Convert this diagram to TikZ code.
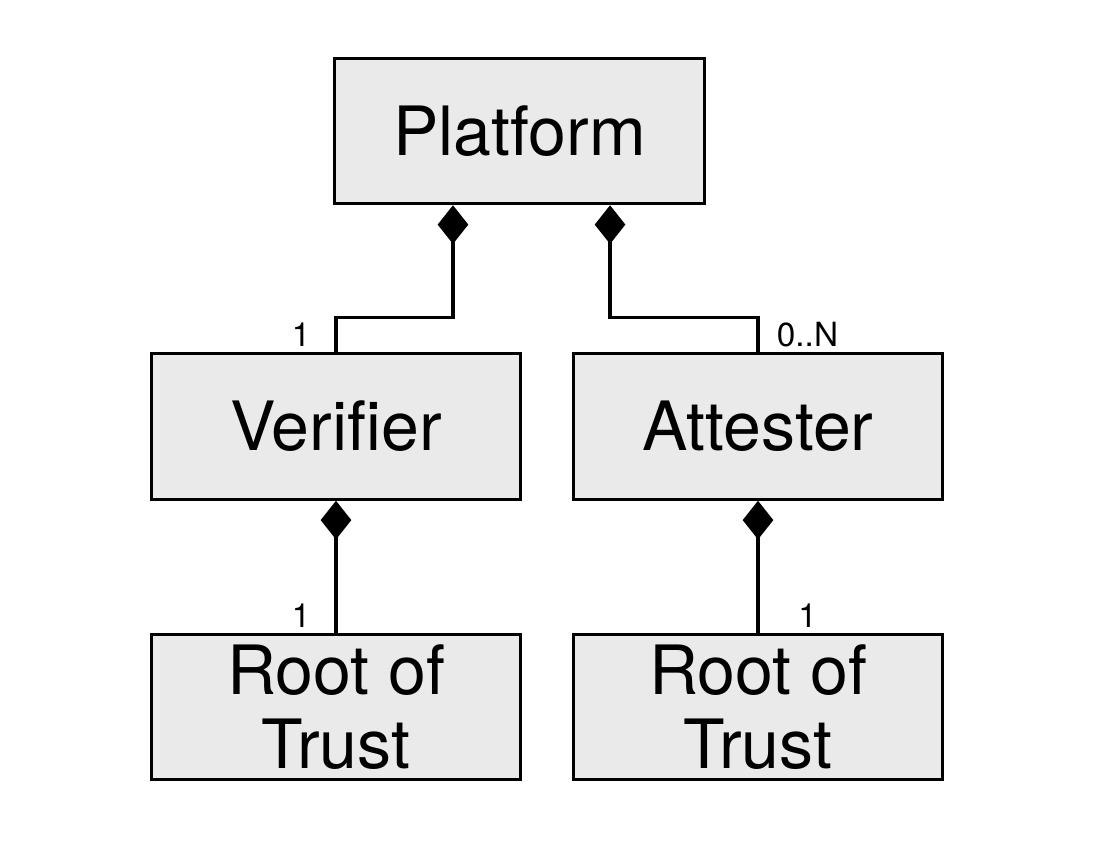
\documentclass[tikz,border=0pt]{standalone}
\usepackage{fontspec}
\setmainfont{TeX Gyre Heros}
\usetikzlibrary{arrows.meta, positioning}
\definecolor{boxgray}{HTML}{EAEAEA}

\begin{document}
\begin{tikzpicture}[
  x=0.75pt, y=-0.75pt,
  box/.style={draw, line width=2.4pt, fill=boxgray, minimum width=277pt, minimum height=109pt,
              align=center, inner sep=0pt, font=\fontsize{51}{55}\selectfont},
  comp/.style={line width=2.4pt, {Diamond[length=29pt, width=23pt]}-},
  mult/.style={font=\fontsize{25}{28}\selectfont, inner sep=0pt}
]
\useasboundingbox (0,0) rectangle (1099,865);

\node[box] (platform) at (519.5,131) {Platform};
\node[box] (verifier) at (336,426.5) {Verifier};
\node[box] (attester) at (758,426.5) {Attester};
\node[box] (rotv) at (336,707) {Root of\\Trust};
\node[box] (rota) at (758,707) {Root of\\Trust};

\draw[comp] ([xshift=-49.9pt]platform.south) -- ++(0,112) -| (verifier.north);
\draw[comp] ([xshift=67.9pt]platform.south) -- ++(0,112) -| (attester.north);
\draw[comp] (verifier.south) -- (rotv.north);
\draw[comp] (attester.south) -- (rota.north);

% multiplicities
\node[mult, anchor=south east] (m1) at ([xshift=-19pt, yshift=4pt]verifier.north) {1};
\node[mult, anchor=south west] (m2) at ([xshift=14pt, yshift=4pt]attester.north) {0..N};
\node[mult, anchor=south east] (m3) at ([xshift=-19pt, yshift=4pt]rotv.north) {1};
\node[mult, anchor=south west] (m4) at ([xshift=30pt, yshift=4pt]rota.north) {1};
\end{tikzpicture}
\end{document}
